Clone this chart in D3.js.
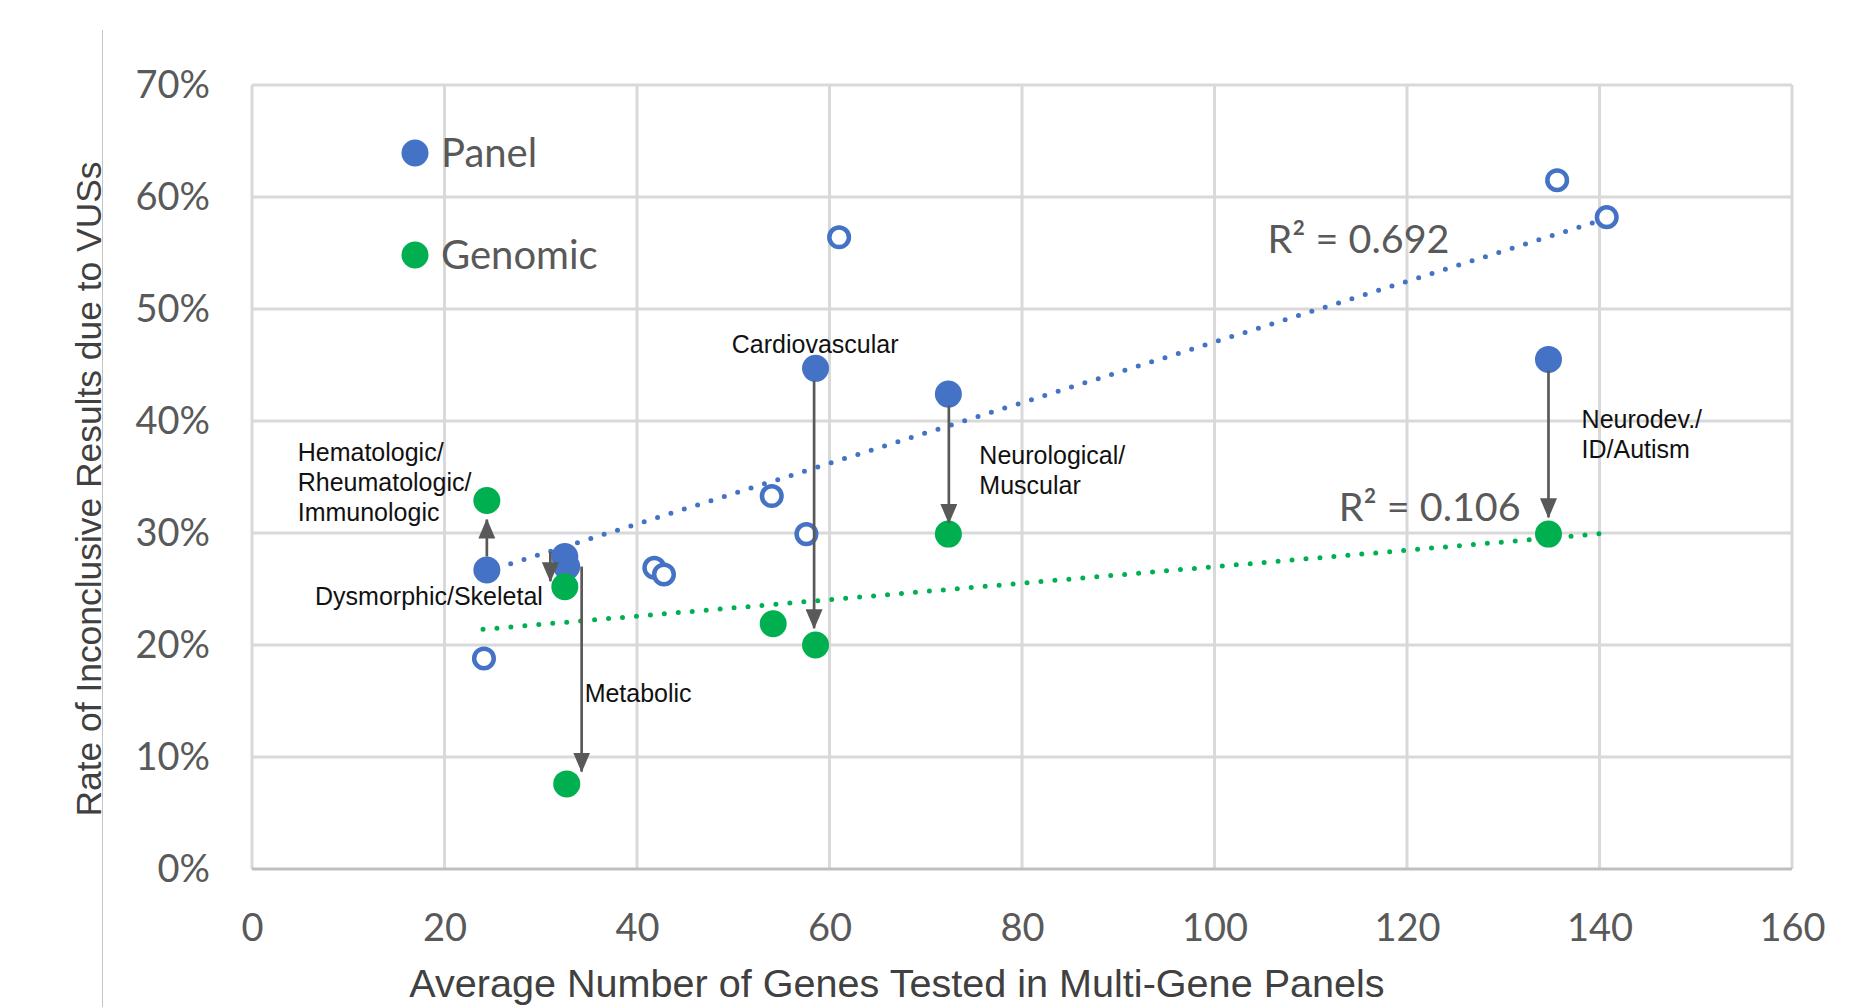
<!DOCTYPE html>
<html>
<head>
<meta charset="utf-8">
<script src="https://cdn.jsdelivr.net/npm/d3@7"></script>
<style>
  body { margin: 0; background: #fff; }
  svg { display: block; }
</style>
</head>
<body>
<div id="container"></div>
<script>
// categories that have both a panel and a genomic rate
var categories = ["Hematologic/\nRheumatologic/\nImmunologic", "Dysmorphic/Skeletal", "Metabolic",
                  "Cardiovascular", "Neurological/\nMuscular", "Neurodev./\nID/Autism"];
var catGenes   = [24.4, 32.5, 32.7, 58.55, 72.35, 134.7];
var catPanel   = [0.267, 0.279, 0.270, 0.447, 0.424, 0.455];
var catGenomic = [0.329, 0.252, 0.076, 0.200, 0.299, 0.299];

// panel-only categories (open circles)
var otherGenes = [24.1, 41.8, 42.8, 54.0, 57.6, 61.0, 135.6, 140.75];
var otherPanel = [0.188, 0.269, 0.263, 0.333, 0.299, 0.564, 0.615, 0.582];

// genomic-only point
var extraGenes   = [54.15];
var extraGenomic = [0.219];

// arrows panel -> genomic  [x, from, to]
var arrowX    = [24.4, 31.0, 34.25, 58.4, 72.4, 134.7];
var arrowFrom = [0.279, 0.283, 0.270, 0.436, 0.414, 0.445];
var arrowTo   = [0.312, 0.257, 0.087, 0.215, 0.309, 0.314];

// fitted trend lines  [x1, y1, x2, y2]
var trendPanel   = [24.1, 0.265, 140.8, 0.581];
var trendGenomic = [24.0, 0.214, 140.9, 0.300];
var r2Labels = ["R\u00b2 = 0.692", "R\u00b2 = 0.106"];

var xTicks = [0, 20, 40, 60, 80, 100, 120, 140, 160];
var yTicks = [0, 0.1, 0.2, 0.3, 0.4, 0.5, 0.6, 0.7];

var blue = "#4472c4", green = "#00b050", grey = "#595959";
var W = 1854, H = 1007;

var svg = d3.select("#container").append("svg")
    .attr("width", W).attr("height", H);

var x = d3.scaleLinear().domain([0, 160]).range([252, 1792]);
var y = d3.scaleLinear().domain([0, 0.7]).range([869, 85]);

// thin frame line at the left of the picture
svg.append("line")
    .attr("x1", 102.5).attr("x2", 102.5).attr("y1", 30).attr("y2", H)
    .attr("stroke", "#c4c4c4").attr("stroke-width", 1);

// grid
var grid = svg.append("g");
grid.selectAll(".vg").data(xTicks).enter().append("line")
    .attr("x1", function(d) { return x(d); }).attr("x2", function(d) { return x(d); })
    .attr("y1", y(0.7)).attr("y2", y(0))
    .attr("stroke", "#d9d9d9").attr("stroke-width", 3);
grid.selectAll(".hg").data(yTicks).enter().append("line")
    .attr("x1", x(0)).attr("x2", x(160))
    .attr("y1", function(d) { return y(d); }).attr("y2", function(d) { return y(d); })
    .attr("stroke", function(d) { return d === 0 ? "#bfbfbf" : "#d9d9d9"; })
    .attr("stroke-width", 3);

// axes (labels only, Excel style)
var xAxis = svg.append("g")
    .attr("transform", "translate(0," + (y(0) + 59) + ")")
    .call(d3.axisBottom(x).tickValues(xTicks).tickSize(0).tickPadding(0));
xAxis.select(".domain").remove();
xAxis.selectAll("text")
    .attr("dy", "0.35em")
    .style("font-family", "Lato, 'Open Sans', sans-serif")
    .style("font-size", "38px").style("fill", grey);

var yAxis = svg.append("g")
    .attr("transform", "translate(210,0)")
    .call(d3.axisLeft(y).tickValues(yTicks).tickFormat(d3.format(".0%")).tickSize(0).tickPadding(0));
yAxis.select(".domain").remove();
yAxis.selectAll("text")
    .style("font-family", "Lato, 'Open Sans', sans-serif")
    .style("font-size", "38px").style("fill", grey);

// axis titles
svg.append("text")
    .attr("x", 897).attr("y", 997)
    .attr("text-anchor", "middle")
    .style("font-family", "'Liberation Sans', Arial, sans-serif")
    .style("font-size", "39.6px").style("fill", "#404040")
    .text("Average Number of Genes Tested in Multi-Gene Panels");

svg.append("text")
    .attr("transform", "translate(101,489) rotate(-90)")
    .attr("text-anchor", "middle")
    .style("font-family", "'Liberation Sans', Arial, sans-serif")
    .style("font-size", "35.4px").style("fill", "#404040")
    .text("Rate of Inconclusive Results due to VUSs");

// trend lines
function trend(t, col) {
  svg.append("line")
      .attr("x1", x(t[0])).attr("y1", y(t[1]))
      .attr("x2", x(t[2])).attr("y2", y(t[3]))
      .attr("stroke", col).attr("stroke-width", 5)
      .attr("stroke-linecap", "round")
      .attr("stroke-dasharray", "0 14");
}
trend(trendPanel, blue);
trend(trendGenomic, green);

// points
var pts = svg.append("g");
pts.selectAll(".open").data(otherGenes).enter().append("circle")
    .attr("cx", function(d) { return x(d); })
    .attr("cy", function(d, i) { return y(otherPanel[i]); })
    .attr("r", 9.8)
    .attr("fill", "#fff").attr("stroke", blue).attr("stroke-width", 4.5);

pts.selectAll(".pan").data(catGenes).enter().append("circle")
    .attr("cx", function(d) { return x(d); })
    .attr("cy", function(d, i) { return y(catPanel[i]); })
    .attr("r", 13.5).attr("fill", blue);

pts.selectAll(".gen").data(catGenes).enter().append("circle")
    .attr("cx", function(d) { return x(d); })
    .attr("cy", function(d, i) { return y(catGenomic[i]); })
    .attr("r", 13.5).attr("fill", green);

pts.selectAll(".gen2").data(extraGenes).enter().append("circle")
    .attr("cx", function(d) { return x(d); })
    .attr("cy", function(d, i) { return y(extraGenomic[i]); })
    .attr("r", 13.5).attr("fill", green);

// arrows
svg.append("defs").append("marker")
    .attr("id", "head")
    .attr("viewBox", "0 0 20 17")
    .attr("refX", 19).attr("refY", 8.5)
    .attr("markerWidth", 20).attr("markerHeight", 17)
    .attr("markerUnits", "userSpaceOnUse")
    .attr("orient", "auto")
  .append("path")
    .attr("d", "M0,0 L20,8.5 L0,17 Z")
    .attr("fill", grey);

svg.selectAll(".arrow").data(arrowX).enter().append("line")
    .attr("x1", function(d) { return x(d); }).attr("x2", function(d) { return x(d); })
    .attr("y1", function(d, i) { return y(arrowFrom[i]); })
    .attr("y2", function(d, i) { return y(arrowTo[i]); })
    .attr("stroke", grey).attr("stroke-width", 2.7)
    .attr("marker-end", "url(#head)");

// category labels, anchored in data units
var labelAt = [[4.75, 0.3643], [6.55, 0.236], [34.56, 0.1495], [49.85, 0.4604], [75.57, 0.3619], [138.14, 0.3941]];
var labels = svg.append("g")
    .style("font-family", "'Liberation Sans', Arial, sans-serif")
    .style("font-size", "25px").style("fill", "#111");
categories.forEach(function(c, i) {
  var t = labels.append("text")
      .attr("x", x(labelAt[i][0])).attr("y", y(labelAt[i][1]));
  c.split("\n").forEach(function(line, j) {
    t.append("tspan").attr("x", x(labelAt[i][0])).attr("dy", j ? 30 : 0).text(line);
  });
});

// R² labels
var r2At = [[105.5, 0.550], [112.9, 0.3105]];
r2Labels.forEach(function(s, i) {
  svg.append("text")
      .attr("x", x(r2At[i][0])).attr("y", y(r2At[i][1]))
      .style("font-family", "Lato, 'Open Sans', sans-serif")
      .style("font-size", "39.5px").style("fill", grey)
      .text(s);
});

// legend
var legend = svg.append("g");
[["Panel", blue, 153], ["Genomic", green, 255]].forEach(function(l) {
  legend.append("circle").attr("cx", 415).attr("cy", l[2]).attr("r", 13.5).attr("fill", l[1]);
  legend.append("text").attr("x", 441).attr("y", l[2] + 14)
      .style("font-family", "Lato, 'Open Sans', sans-serif")
      .style("font-size", "40px").style("fill", grey)
      .text(l[0]);
});
</script>
</body>
</html>
